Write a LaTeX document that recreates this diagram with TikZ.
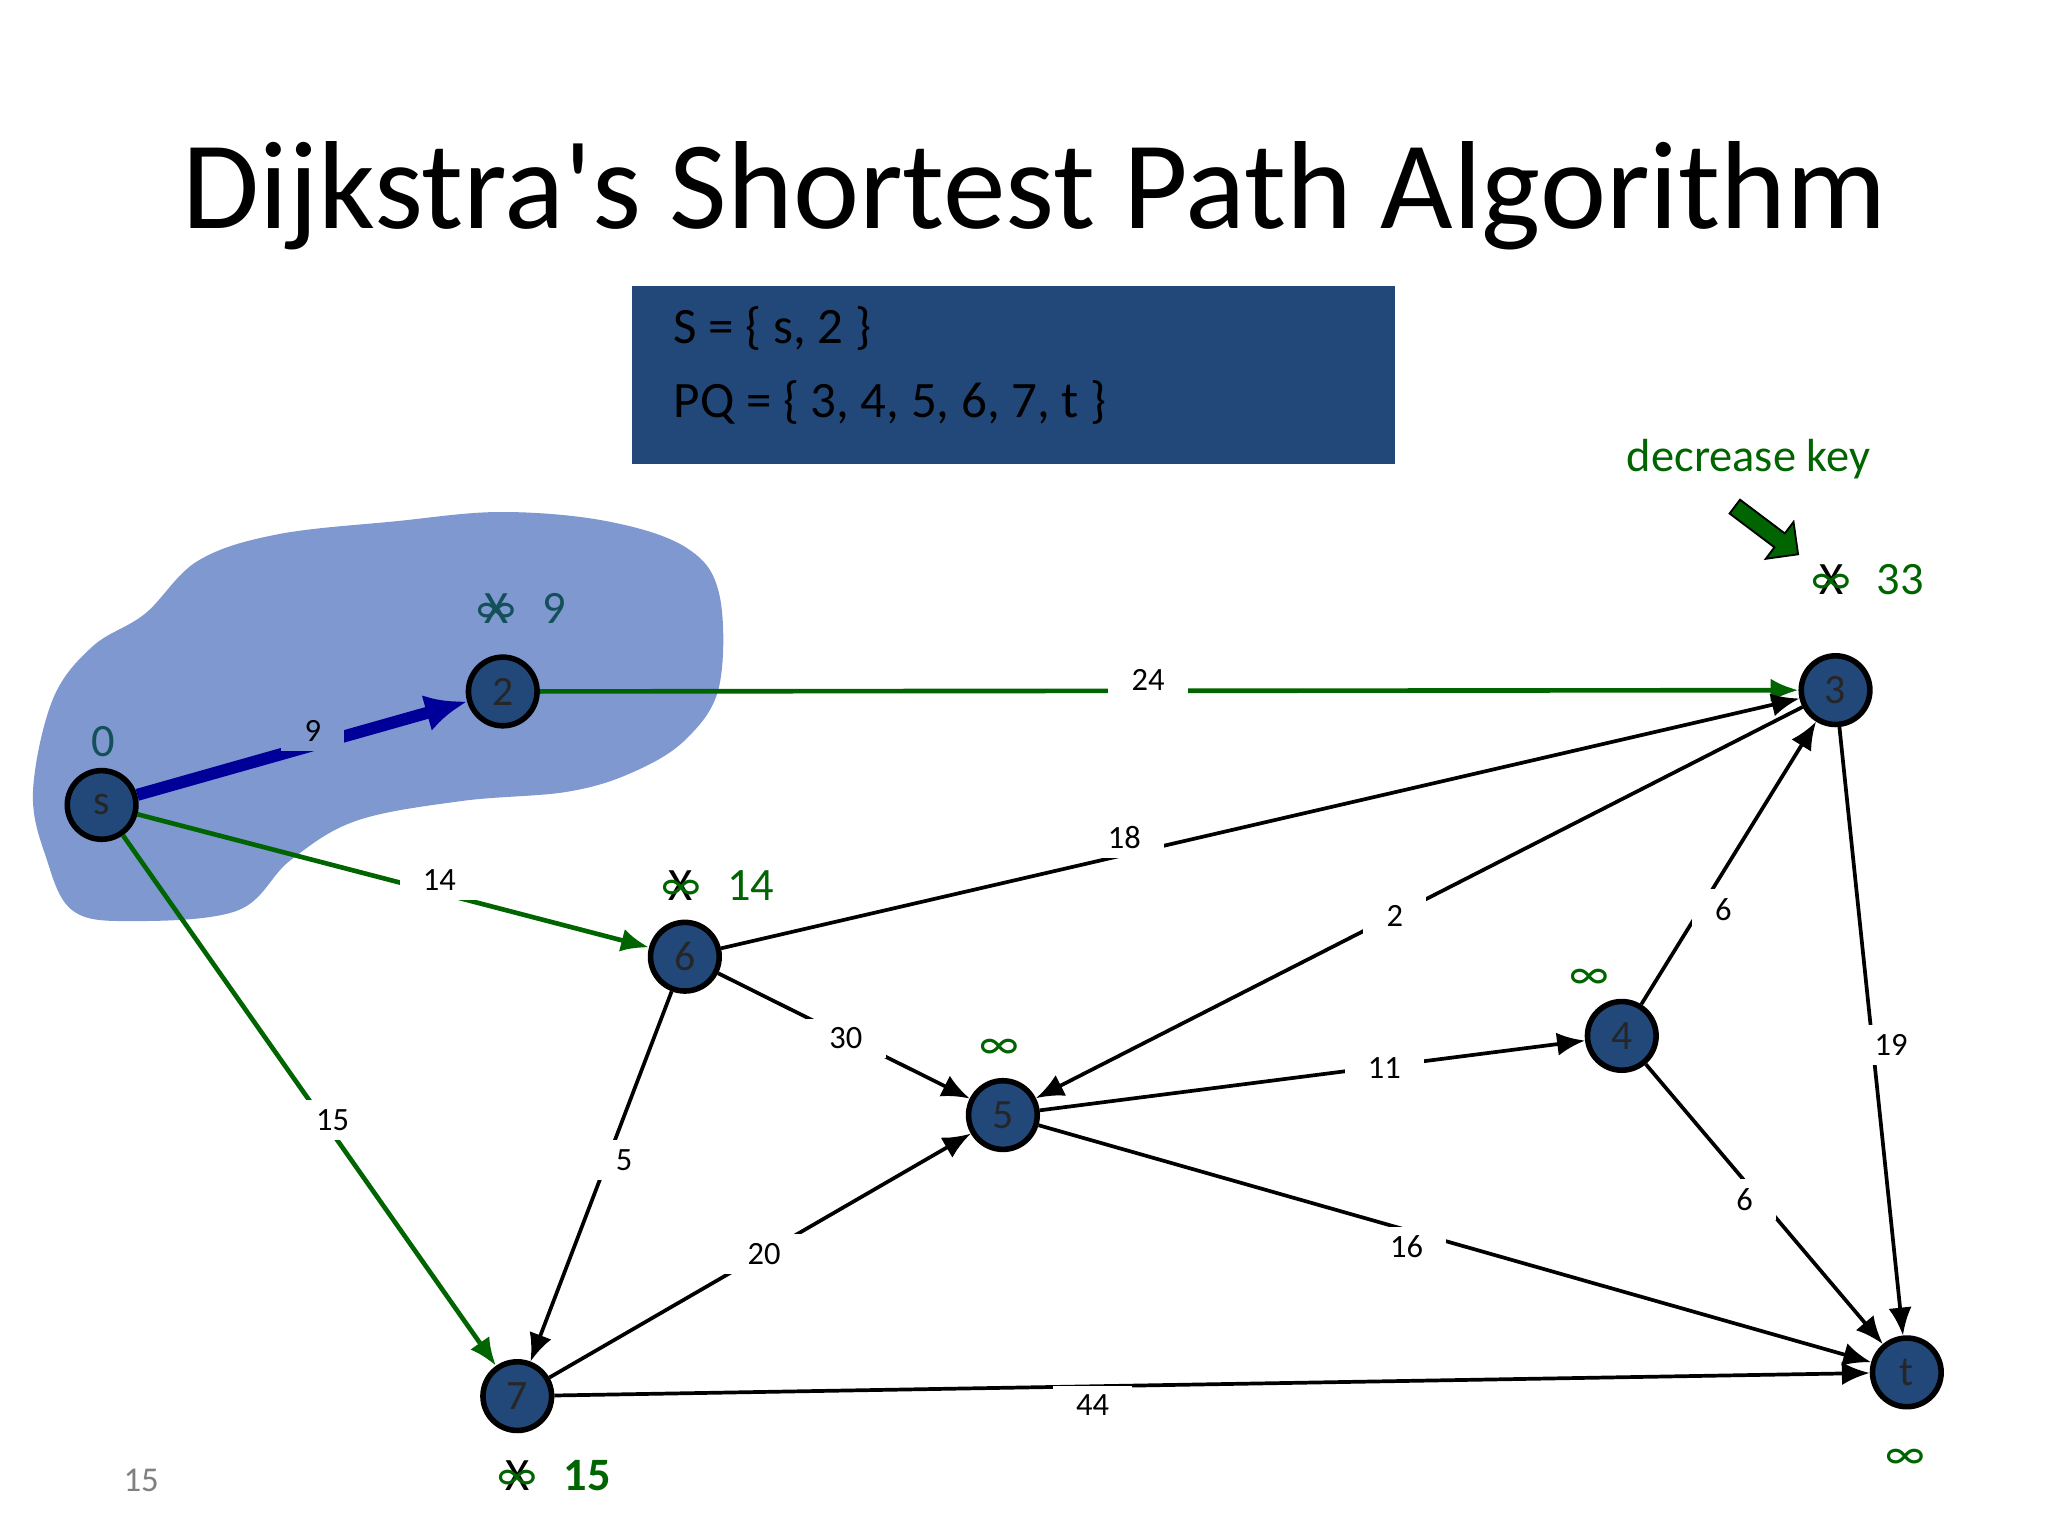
\documentclass[tikz,border=0pt]{standalone}
\usepackage{fontspec}
\setmainfont{Carlito}
\newfontfamily\titlefont[Ligatures=ResetAll]{Carlito}
\usetikzlibrary{arrows.meta,shapes.arrows}
\definecolor{nodeblue}{RGB}{34,72,122}
\definecolor{blob}{RGB}{127,152,208}
\definecolor{grn}{RGB}{0,100,0}
\definecolor{teal}{RGB}{20,80,90}
\newcommand{\xinfty}[1]{\makebox[0pt]{\color{#1}X}\makebox[0pt]{∞}}
\begin{document}
\begin{tikzpicture}[x=0.01cm,y=-0.01cm,
  vtx/.style={circle,draw=black,line width=1.2pt,fill=nodeblue,text=black!85,minimum size=0.52cm,inner sep=0pt,font=\fontsize{9}{10}\selectfont},
  edg/.style={-{Latex[length=6pt,width=5pt]},line width=0.8pt,black},
  gedg/.style={edg,draw=grn,line width=1pt},
  elab/.style={fill=white,inner xsep=5pt,inner ysep=2pt,font=\fontsize{7}{8}\selectfont},
  dist/.style={font=\fontsize{10}{11}\selectfont,text=grn},
  xinf/.style={font=\fontsize{10}{11}\selectfont}]
\useasboundingbox (0,0) rectangle (1552,1164);
\fill[white] (0,0) rectangle (1552,1164);
\node[font=\titlefont\fontsize{27}{32}\selectfont] (title) at (784,148) {Dijkstra's Shortest Path Algorithm};
\fill[nodeblue] (479,217) rectangle (1057,352);
\node[anchor=west,font=\fontsize{11}{13}\selectfont,inner sep=0pt] (sset) at (510,249) {S = \{ s, 2 \}};
\node[anchor=west,font=\fontsize{11}{13}\selectfont,inner sep=0pt] (pq) at (510,305) {PQ = \{ 3, 4, 5, 6, 7, t \}};
\fill[blob] plot[smooth cycle,tension=0.6] coordinates {(25,600)(40,530)(70,490)(110,465)(150,425)(210,405)(300,395)(380,388)(460,395)(520,415)(545,450)(545,520)(520,560)(480,585)(430,600)(350,607)(270,622)(220,652)(180,690)(100,698)(55,690)(35,650)};
\node[vtx] (s) at (77,610) {s};
\node[vtx] (n2) at (381,524) {2};
\node[vtx] (n3) at (1391,523) {3};
\node[vtx] (n6) at (519,725) {6};
\node[vtx] (n5) at (760,845) {5};
\node[vtx] (n4) at (1229,785) {4};
\node[vtx] (n7) at (392,1058) {7};
\node[vtx] (t) at (1445,1040) {t};
\draw[-{Latex[length=9pt,width=8pt]},line width=2.6pt,draw=blue!60!black] (s) -- (n2);
\draw[gedg] (n2) -- (n3);
\draw[gedg] (s) -- (n6);
\draw[gedg] (s) -- (n7);
\draw[edg] (n6) -- (n3);
\draw[edg] (n3) -- (n5);
\draw[edg] (n4) -- (n3);
\draw[edg] (n6) -- (n5);
\draw[edg] (n6) -- (n7);
\draw[edg] (n5) -- (n4);
\draw[edg] (n3) -- (t);
\draw[edg] (n4) -- (t);
\draw[edg] (n7) -- (n5);
\draw[edg] (n5) -- (t);
\draw[edg] (n7) -- (t);
\node[elab,fill=blob] (l9) at (237,554) {9};
\node[elab] (l24) at (870,515) {24};
\node[elab] (l14) at (333,667) {14};
\node[elab] (l15) at (252,849) {15};
\node[elab] (l18) at (852,635) {18};
\node[elab] (l2) at (1057,694) {2};
\node[elab] (l6a) at (1306,689) {6};
\node[elab] (l30) at (641,787) {30};
\node[elab] (l5) at (473,879) {5};
\node[elab] (l11) at (1049,809) {11};
\node[elab] (l19) at (1433,792) {19};
\node[elab] (l6b) at (1322,909) {6};
\node[elab] (l20) at (579,950) {20};
\node[elab] (l16) at (1066,945) {16};
\node[elab] (l44) at (828,1065) {44};
\node[dist,text=teal] (d0) at (78,562) {0};
\node[xinf,text=teal] (x2) at (376,461) {\xinfty{teal}};
\node[dist,text=teal] (d2) at (420,461) {9};
\node[xinf,text=grn] (x6) at (516,671) {\xinfty{black}};
\node[dist] (d6) at (569,671) {14};
\node[xinf,text=grn] (x3) at (1388,439) {\xinfty{black}};
\node[dist] (d3) at (1440,439) {33};
\node[dist] (d5) at (757,795) {∞};
\node[dist] (d4) at (1204,742) {∞};
\node[xinf,text=grn] (x7) at (392,1118) {\xinfty{black}};
\node[dist,font=\bfseries\fontsize{10}{11}\selectfont] (d7) at (445,1118) {15};
\node[dist] (dt) at (1444,1106) {∞};
\node[dist] (dk) at (1325,348) {decrease key};
\node[single arrow,draw=black,fill=grn,rotate=-37,minimum height=0.6cm,minimum width=0.35cm,single arrow head extend=2pt,inner sep=1pt] (arr) at (1336,400) {};
\node[font=\fontsize{7.5}{8}\selectfont,text=gray] (pg) at (107,1122) {15};
\end{tikzpicture}
\end{document}
